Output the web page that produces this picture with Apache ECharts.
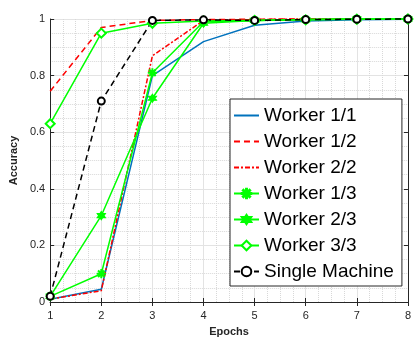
<!DOCTYPE html>
<html>
<head>
<meta charset="utf-8">
<script src="https://cdn.jsdelivr.net/npm/echarts@6/dist/echarts.min.js"></script>
<style>
  html, body { margin: 0; padding: 0; background: #fff; }
  #chart { width: 414px; height: 342px; }
</style>
</head>
<body>
<div id="chart"></div>
<script>
var epochs = [1, 2, 3, 4, 5, 6, 7, 8];
var worker11 = [0.01, 0.045, 0.80, 0.92, 0.978, 0.993, 0.997, 0.999];
var worker12 = [0.745, 0.97, 0.995, 0.998, 0.999, 1.0, 1.0, 1.0];
var worker22 = [0.01, 0.04, 0.87, 0.995, 0.998, 1.0, 1.0, 1.0];
var worker13 = [0.02, 0.10, 0.81, 0.99, 0.995, 0.998, 1.0, 1.0];
var worker23 = [0.02, 0.305, 0.72, 0.985, 0.995, 0.998, 1.0, 1.0];
var worker33 = [0.63, 0.95, 0.985, 0.993, 0.995, 0.997, 0.999, 1.0];
var single = [0.02, 0.71, 0.995, 0.997, 0.995, 0.998, 0.999, 1.0];

var asterisk = 'path://M-0.5,-5L0.5,-5L0.5,5L-0.5,5Z M-5,-0.5L5,-0.5L5,0.5L-5,0.5Z M-3.9,-3.2L-3.2,-3.9L3.9,3.2L3.2,3.9Z M3.2,-3.9L3.9,-3.2L-3.2,3.9L-3.9,3.2Z';
var hexagram = 'path://M0,-5L4.33,2.5L-4.33,2.5Z M0,5L-4.33,-2.5L4.33,-2.5Z';

function pairs(vals) {
  return epochs.map(function (e, i) { return [e, vals[i]]; });
}

function makeSeries(name, vals, color, dash, symbol, size) {
  return {
    name: name,
    type: 'line',
    data: pairs(vals),
    clip: false,
    symbol: symbol || 'circle',
    showSymbol: !!symbol,
    symbolSize: size || 7,
    lineStyle: { color: color, width: 1.5, type: dash || 'solid' },
    // series without markers get an invisible symbol so the legend shows only the line
    itemStyle: { color: color, borderColor: color, borderWidth: 1.2, opacity: symbol ? 1 : 0 },
    emphasis: { disabled: true },
    animation: false
  };
}

var axisColor = '#262626';
var chart = echarts.init(document.getElementById('chart'));

var option = {
  animation: false,
  grid: { left: 50, right: 3, top: 19, bottom: 39 },
  xAxis: [
    {
      type: 'value', min: 1, max: 8, interval: 1,
      name: 'Epochs', nameLocation: 'middle', nameGap: 24,
      nameTextStyle: { fontFamily: 'Liberation Sans', fontSize: 11, fontWeight: 'bold', color: axisColor },
      axisLine: { show: true, lineStyle: { color: axisColor } },
      axisTick: { show: true, inside: true, length: 4, lineStyle: { color: axisColor } },
      axisLabel: { fontFamily: 'Liberation Sans', fontSize: 11, color: axisColor, margin: 8 },
      splitLine: { show: true, lineStyle: { color: '#e3e3e3' } },
      minorTick: { show: false, splitNumber: 4 },
      minorSplitLine: { show: true, lineStyle: { color: '#d8d8d8', type: 'dotted' } }
    },
    {
      type: 'value', min: 1, max: 8, interval: 1, position: 'top',
      axisLine: { show: true, lineStyle: { color: axisColor } },
      axisTick: { show: true, inside: true, length: 4, lineStyle: { color: axisColor } },
      axisLabel: { show: false },
      splitLine: { show: false }
    }
  ],
  yAxis: [
    {
      type: 'value', min: 0, max: 1, interval: 0.2,
      name: 'Accuracy', nameLocation: 'middle', nameGap: 27,
      nameTextStyle: { fontFamily: 'Liberation Sans', fontSize: 11, fontWeight: 'bold', color: axisColor },
      axisLine: { show: true, lineStyle: { color: axisColor } },
      axisTick: { show: true, inside: true, length: 4, lineStyle: { color: axisColor } },
      axisLabel: {
        fontFamily: 'Liberation Sans', fontSize: 11, color: axisColor, margin: 5,
        formatter: function (v) { return String(Math.round(v * 10) / 10); }
      },
      splitLine: { show: true, lineStyle: { color: '#e3e3e3' } },
      minorTick: { show: false, splitNumber: 4 },
      minorSplitLine: { show: true, lineStyle: { color: '#d8d8d8', type: 'dotted' } }
    },
    {
      type: 'value', min: 0, max: 1, interval: 0.2, position: 'right',
      axisLine: { show: true, lineStyle: { color: axisColor } },
      axisTick: { show: true, inside: true, length: 4, lineStyle: { color: axisColor } },
      axisLabel: { show: false },
      splitLine: { show: false }
    }
  ],
  legend: {
    orient: 'vertical',
    left: 230, top: 99,
    width: 172,
    padding: [7, 8, 5, 3],
    itemGap: 7,
    itemWidth: 25,
    itemHeight: 12,
    itemTextGap: 4,
    backgroundColor: '#fff',
    borderColor: '#262626',
    borderWidth: 1,
    borderRadius: 0,
    textStyle: { fontFamily: 'Liberation Sans', fontSize: 19, lineHeight: 17, color: '#000' },
    data: ['Worker 1/1', 'Worker 1/2', 'Worker 2/2', 'Worker 1/3', 'Worker 2/3', 'Worker 3/3', 'Single Machine']
  },
  series: [
    makeSeries('Worker 1/1', worker11, '#0072BD'),
    makeSeries('Worker 1/2', worker12, '#FF0000', [6, 4]),
    makeSeries('Worker 2/2', worker22, '#FF0000', [5, 2, 2, 2]),
    makeSeries('Worker 1/3', worker13, '#00FF00', 'solid', asterisk, 8),
    makeSeries('Worker 2/3', worker23, '#00FF00', 'solid', hexagram, 8),
    makeSeries('Worker 3/3', worker33, '#00FF00', 'solid', 'emptyDiamond', 9),
    makeSeries('Single Machine', single, '#000000', [6, 4], 'emptyCircle', 7)
  ]
};

chart.setOption(option);
</script>
</body>
</html>
